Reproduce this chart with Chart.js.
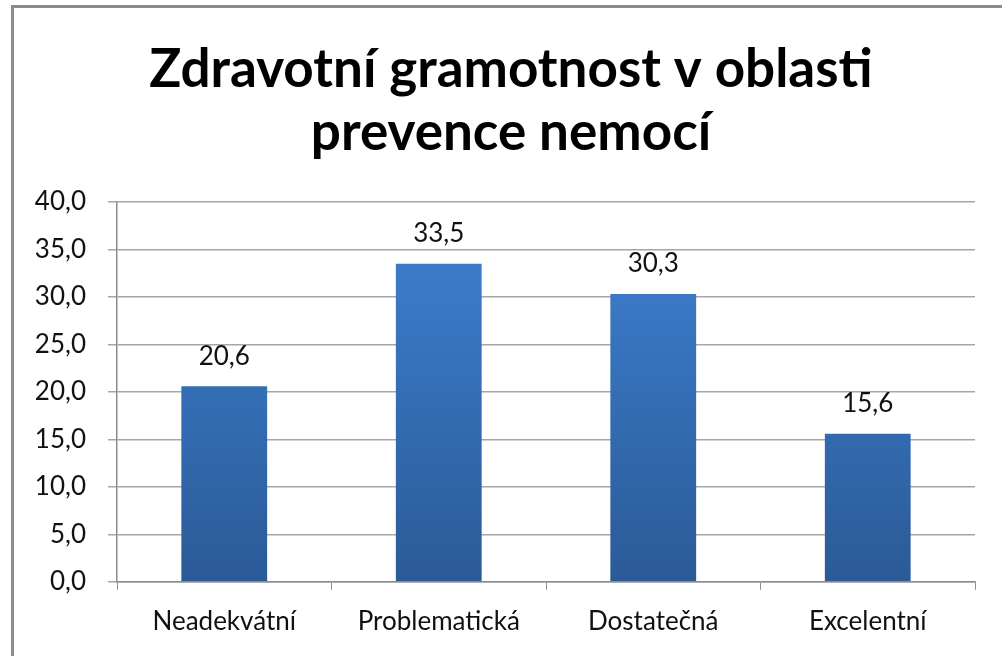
<!DOCTYPE html>
<html>
<head>
<meta charset="utf-8">
<script src="https://cdn.jsdelivr.net/npm/chart.js@4"></script>
<style>
    html, body { margin: 0; padding: 0; background: #fff; }
    #wrap { position: relative; width: 1002px; height: 656px; overflow: hidden; }
    #frame { position: absolute; left: 11px; top: 5px; width: 1100px; height: 800px; border: 3px solid #8c8c8c; box-sizing: border-box; }
    canvas { position: absolute; left: 0; top: 0; }
</style>
</head>
<body>
<div id="wrap">
    <div id="frame"></div>
    <canvas id="platformChart" width="1002" height="656"></canvas>
</div>
<script>
const categories = ["Neadekvátní", "Problematická", "Dostatečná", "Excelentní"];
const values = [20.6, 33.5, 30.3, 15.6];
const titleLines = ["Zdravotní gramotnost v oblasti", "prevence nemocí"];

const fontFamily = "Lato, 'Liberation Sans', sans-serif";
const fmt = v => v.toFixed(1).replace(".", ",");

// title drawn by hand so it can sit centred on the frame, not the plot
const frameTitle = {
    id: "frameTitle",
    afterDraw(chart) {
        const ctx = chart.ctx;
        ctx.save();
        ctx.font = "bold 53px " + fontFamily;
        ctx.fillStyle = "#000";
        ctx.textAlign = "center";
        ctx.textBaseline = "middle";
        titleLines.forEach((line, i) => {
            ctx.fillText(line, 511, 70 + i * 63);
        });
        ctx.restore();
    }
};

const barLabels = {
    id: "barLabels",
    afterDatasetsDraw(chart) {
        const ctx = chart.ctx;
        const meta = chart.getDatasetMeta(0);
        ctx.save();
        ctx.font = "26px " + fontFamily;
        ctx.fillStyle = "#111";
        ctx.textAlign = "center";
        ctx.textBaseline = "middle";
        meta.data.forEach((bar, i) => {
            ctx.fillText(fmt(values[i]), bar.x, bar.y - 30);
        });
        ctx.restore();
    }
};

const ctx = document.getElementById("platformChart").getContext("2d");

const chart = new Chart(ctx, {
    type: "bar",
    data: {
        labels: categories,
        datasets: [{
            data: values,
            backgroundColor: (c) => {
                const area = c.chart.chartArea;
                if (!area) return "#3a78c6";
                const g = c.chart.ctx.createLinearGradient(0, area.top, 0, area.bottom);
                g.addColorStop(0, "#3e82d4");
                g.addColorStop(1, "#2b5a97");
                return g;
            },
            categoryPercentage: 0.4,
            barPercentage: 1.0
        }]
    },
    options: {
        responsive: false,
        animation: false,
        layout: { padding: { left: 0, right: 27, top: 202, bottom: 3 } },
        plugins: {
            legend: { display: false },
            tooltip: { enabled: false },
            title: { display: false }
        },
        scales: {
            x: {
                offset: true,
                grid: {
                    offset: true,
                    drawOnChartArea: false,
                    drawTicks: true,
                    tickLength: 8,
                    color: "#8c8c8c"
                },
                border: { color: "#8c8c8c", width: 1.5 },
                ticks: {
                    color: "#111",
                    font: { family: fontFamily, size: 26 },
                    padding: 16
                }
            },
            y: {
                min: 0,
                max: 40,
                afterFit: (s) => { s.width = 117; },
                grid: {
                    color: "#a6a6a6",
                    lineWidth: 1.5,
                    tickLength: 9
                },
                border: { color: "#8c8c8c", width: 1.5 },
                ticks: {
                    stepSize: 5,
                    color: "#111",
                    font: { family: fontFamily, size: 26 },
                    padding: 22,
                    callback: (v) => fmt(v)
                }
            }
        }
    },
    plugins: [barLabels, frameTitle]
});
</script>
</body>
</html>
